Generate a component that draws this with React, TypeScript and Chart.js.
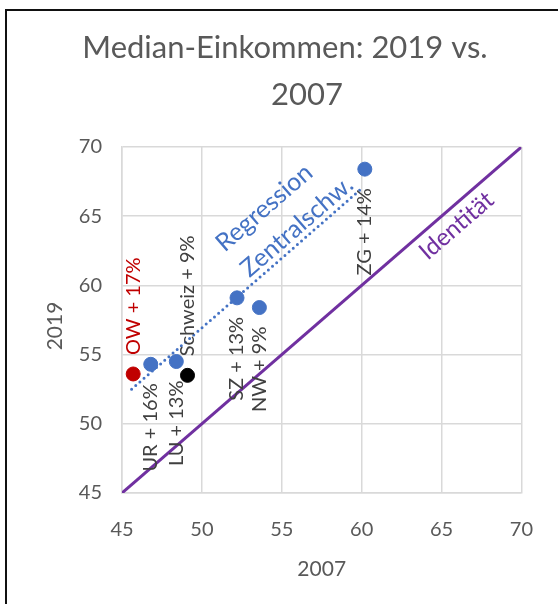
import { useEffect, useRef } from "react";
import { Chart, registerables } from "chart.js";

Chart.register(...registerables);

// Median income (thousand CHF), 2007 vs. 2019
const centralNames = ["UR", "LU", "SZ", "NW", "ZG"];
const central2007 = [46.8, 48.4, 52.2, 53.6, 60.2];
const central2019 = [54.3, 54.5, 59.1, 58.4, 68.4];
const centralGrowth = ["+ 16%", "+ 13%", "+ 13%", "+ 9%", "+ 14%"];

const owName = "OW";
const ow2007 = [45.7];
const ow2019 = [53.6];
const owGrowth = "+ 17%";

const chName = "Schweiz";
const ch2007 = [49.1];
const ch2019 = [53.5];
const chGrowth = "+ 9%";

// Linear trend of the central Swiss cantons (end points)
const trend2007 = [45.6, 60.1];
const trend2019 = [52.5, 67.1];

const identity = [45, 70];
const axisTicks = [45, 50, 55, 60, 65, 70];

const FONT = "Lato, 'Open Sans', sans-serif";
const BLUE = "#4472C4";
const RED = "#C00000";
const PURPLE = "#7030A0";
const GRAY = "#595959";
const LABEL = "#404040";

const toPoints = (xs: number[], ys: number[]) => xs.map((x, i) => ({ x, y: ys[i] }));

const annotate = {
  id: "annotate",
  afterDraw(chart: any) {
    const { ctx } = chart;
    const xs = chart.scales.x;
    const ys = chart.scales.y;
    const px = (v: number) => xs.getPixelForValue(v);
    const py = (v: number) => ys.getPixelForValue(v);

    // angle of a 45° data line in pixel space
    const ang = Math.atan2(py(70) - py(45), px(70) - px(45));

    ctx.save();
    // title
    ctx.fillStyle = GRAY;
    ctx.font = `31px ${FONT}`;
    ctx.textAlign = "center";
    ctx.textBaseline = "middle";
    ctx.fillText("Median-Einkommen: 2019 vs.", 285, 48);
    ctx.fillText("2007", 307, 95);

    // axis titles
    ctx.font = `21px ${FONT}`;
    ctx.fillText("2007", (xs.left + xs.right) / 2, 569);
    ctx.save();
    ctx.translate(55, (ys.top + ys.bottom) / 2 + 6);
    ctx.rotate(-Math.PI / 2);
    ctx.fillText("2019", 0, 0);
    ctx.restore();

    // vertical data labels
    const gap = 19;
    const vlabel = (x: number, y: number, text: string, color: string, above: boolean) => {
      ctx.save();
      ctx.translate(px(x), py(y));
      ctx.rotate(-Math.PI / 2);
      ctx.fillStyle = color;
      ctx.font = `20px ${FONT}`;
      ctx.textBaseline = "middle";
      ctx.textAlign = above ? "left" : "right";
      ctx.fillText(text, above ? gap : -gap, 0);
      ctx.restore();
    };
    centralNames.forEach((n, i) =>
      vlabel(central2007[i], central2019[i], `${n} ${centralGrowth[i]}`, LABEL, false)
    );
    vlabel(ow2007[0], ow2019[0], `${owName} ${owGrowth}`, RED, true);
    vlabel(ch2007[0], ch2019[0], `${chName} ${chGrowth}`, LABEL, true);

    // slanted line captions
    const slanted = (x: number, y: number, text: string, color: string, size: number) => {
      ctx.save();
      ctx.translate(px(x), py(y));
      ctx.rotate(ang);
      ctx.fillStyle = color;
      ctx.font = `${size}px ${FONT}`;
      ctx.textAlign = "center";
      ctx.textBaseline = "middle";
      ctx.fillText(text, 0, 0);
      ctx.restore();
    };
    slanted(53.9, 65.6, "Regression", BLUE, 25);
    slanted(55.95, 64.25, "Zentralschw.", BLUE, 25);
    slanted(65.94, 64.3, "Identität", PURPLE, 24);
    ctx.restore();
  },
};

export default function App() {
  const ref = useRef<HTMLCanvasElement>(null);

  useEffect(() => {
    if (!ref.current) return;
    const chart = new Chart(ref.current, {
      type: "scatter",
      data: {
        datasets: [
          {
            label: owName,
            data: toPoints(ow2007, ow2019),
            backgroundColor: RED,
            borderColor: RED,
            pointRadius: 7,
            order: 1,
          },
          {
            label: chName,
            data: toPoints(ch2007, ch2019),
            backgroundColor: "#000000",
            borderColor: "#000000",
            pointRadius: 7,
            order: 1,
          },
          {
            label: "Zentralschweiz",
            data: toPoints(central2007, central2019),
            backgroundColor: BLUE,
            borderColor: BLUE,
            pointRadius: 7,
            order: 1,
          },
          {
            label: "Regression Zentralschw.",
            data: toPoints(trend2007, trend2019),
            showLine: true,
            borderColor: BLUE,
            borderWidth: 3,
            borderDash: [0, 5.5],
            borderCapStyle: "round",
            pointRadius: 0,
            order: 2,
          },
          {
            label: "Identität",
            data: toPoints(identity, identity),
            showLine: true,
            borderColor: PURPLE,
            borderWidth: 3,
            pointRadius: 0,
            order: 3,
          },
        ],
      },
      options: {
        responsive: false,
        animation: false,
        devicePixelRatio: 1,
        layout: { padding: { left: 0, top: 147, right: 36, bottom: 0 } },
        plugins: {
          legend: { display: false },
          tooltip: { enabled: false },
          title: { display: false },
        },
        scales: {
          x: {
            type: "linear",
            min: axisTicks[0],
            max: axisTicks[axisTicks.length - 1],
            afterBuildTicks: (s: any) => {
              s.ticks = axisTicks.map((v) => ({ value: v }));
            },
            afterFit: (s: any) => {
              s.height = 111;
            },
            grid: { color: "#d9d9d9", lineWidth: 1.5, drawTicks: false },
            border: { color: "#d9d9d9", width: 1.5 },
            ticks: { color: GRAY, font: { family: FONT, size: 20 }, padding: 25 },
          },
          y: {
            type: "linear",
            min: axisTicks[0],
            max: axisTicks[axisTicks.length - 1],
            afterBuildTicks: (s: any) => {
              s.ticks = axisTicks.map((v) => ({ value: v }));
            },
            afterFit: (s: any) => {
              s.width = 122;
            },
            grid: { color: "#d9d9d9", lineWidth: 1.5, drawTicks: false },
            border: { color: "#d9d9d9", width: 1.5 },
            ticks: { color: GRAY, font: { family: FONT, size: 20 }, padding: 20 },
          },
        },
      },
      plugins: [annotate],
    } as any);
    return () => chart.destroy();
  }, []);

  return (
    <div
      style={{
        position: "fixed",
        left: 0,
        top: 0,
        width: 558,
        height: 604,
        overflow: "hidden",
        background: "#ffffff",
      }}
    >
      <canvas ref={ref} width={558} height={604} style={{ position: "absolute", left: 0, top: 0 }} />
      <div
        style={{
          position: "absolute",
          left: 5,
          top: 9,
          width: 700,
          height: 700,
          borderTop: "2px solid #111",
          borderLeft: "2px solid #111",
          pointerEvents: "none",
        }}
      />
    </div>
  );
}
